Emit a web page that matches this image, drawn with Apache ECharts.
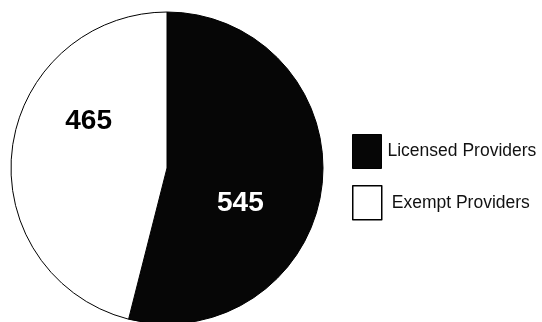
<!DOCTYPE html>
<html>
<head>
<meta charset="utf-8">
<script src="https://cdn.jsdelivr.net/npm/echarts@6/dist/echarts.min.js"></script>
<style>
  html, body { margin: 0; padding: 0; background: #fff; }
  #chart { width: 542px; height: 322px; }
</style>
</head>
<body>
<div id="chart"></div>
<script>
// Provider counts by type
const categories = ['Licensed Providers', 'Exempt Providers'];
const values = [545, 465];
const sliceColors = ['#060606', '#ffffff'];
const labelColors = ['#ffffff', '#000000'];
const labelOffsets = [[-7, 25], [2, -37]];

const chart = echarts.init(document.getElementById('chart'), null, { renderer: 'canvas' });

const pieData = categories.map((name, i) => ({
  name: name,
  value: values[i],
  itemStyle: { color: sliceColors[i] },
  label: { color: labelColors[i], offset: labelOffsets[i] }
}));

const legendFont = '"Liberation Sans", Arial, Helvetica, sans-serif';

chart.setOption({
  animation: false,
  backgroundColor: '#ffffff',
  legend: [
    {
      left: 347, top: 129,
      itemWidth: 29, itemHeight: 34,
      selectedMode: false,
      data: [{ name: categories[0], icon: 'rect', itemStyle: { borderColor: '#000', borderWidth: 1 } }],
      textStyle: { fontFamily: legendFont, fontSize: 17.5, color: '#111', padding: [0, 0, 0, 1] }
    },
    {
      left: 347, top: 180,
      itemWidth: 29, itemHeight: 34,
      selectedMode: false,
      data: [{ name: categories[1], icon: 'rect', itemStyle: { borderColor: '#000', borderWidth: 1.5 } }],
      textStyle: { fontFamily: legendFont, fontSize: 17.5, color: '#111', padding: [4, 0, 0, 5] }
    }
  ],
  series: [{
    type: 'pie',
    center: [167, 168],
    radius: 156,
    startAngle: 90,
    clockwise: true,
    silent: true,
    itemStyle: { borderColor: '#000', borderWidth: 1 },
    label: {
      show: true,
      position: 'inside',
      formatter: '{c}',
      fontFamily: 'Liberation Sans, Arial, sans-serif',
      fontWeight: 'bold',
      fontSize: 28
    },
    labelLine: { show: false },
    data: pieData
  }]
});
</script>
</body>
</html>
